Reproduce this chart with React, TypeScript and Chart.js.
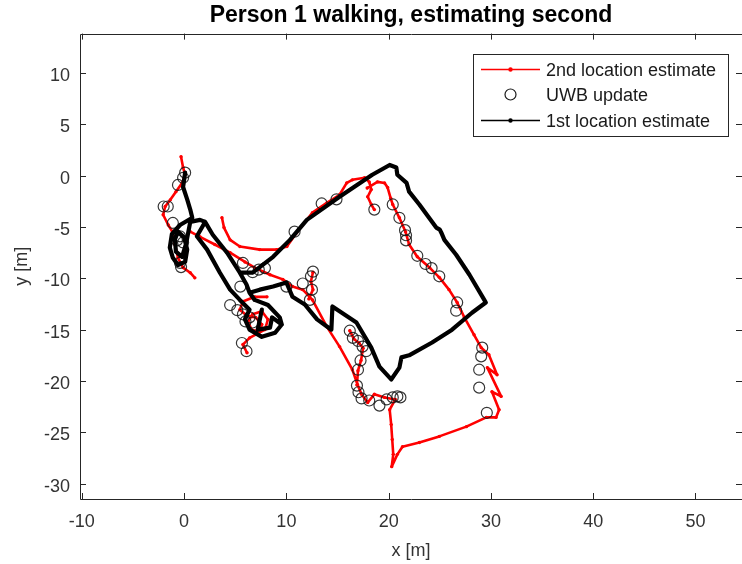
import React, { useEffect, useRef } from "react";
import { Chart, registerables } from "chart.js";

Chart.register(...registerables);

const FONT = '"Liberation Sans", Arial, Helvetica, sans-serif';

const chartTitle = "Person 1 walking, estimating second";
const xLabel = "x [m]";
const yLabel = "y [m]";
const xTicks = [-10, 0, 10, 20, 30, 40, 50];
const yTicks = [-30, -25, -20, -15, -10, -5, 0, 5, 10];
const seriesNames = ["2nd location estimate", "UWB update", "1st location estimate"];

// 2nd location estimate (red), null = break in the trace
const secondX = [
  -0.3, -0.1, 0.1, -0.2, -0.8, -1.35, -1.85, -2.05, -1.55, -1.15, -0.9, -0.6, -0.1, 0.6, 1.05, null,
  3.7, 3.9, 4.5, 5.45, 7.4, 9.05, 10.05, 11.0, 12.55, 13.95, 15.2, 15.9, 16.45, 17.65, 18.1, 18.3, 17.95, 18.3, 18.6, null,
  17.9, 18.9, 19.6, 19.9, 20.2, 20.4, 21.05, 21.65, 22.0, 22.8, 24.0, 24.95, 25.9, 26.7, 27.4, 28.35, 29.05, 29.8, 30.6, 29.65,
  31.0, 30.1, 30.8, 30.5, 29.55, 27.6, 24.95, 23.0, 21.35, 20.85, 20.3, 20.45, 20.35, 20.25, 20.1, 20.65, 19.6, 18.6, 17.95,
  17.35, 16.95, 16.45, 15.2, 13.95, 12.55, 11.6, 10.6, 9.65, 8.4, 6.9, 5.95, 4.5, 3.0, 1.55, 0.6, null,
  8.1, 6.9, 5.75, 5.45, 6.15, 7.0, 7.6, 7.4, 6.6, 6.25, 6.7, 7.6, 8.2, 7.9, 6.4, 5.75, 6.15, null,
  12.6, 12.4, 12.6, 12.2, null,
  16.2, 16.6, 17.1, 17.5, 17.3, 17.0, 16.9,
];
const secondY = [
  1.85, 0.8, 0.1, -0.7, -1.55, -2.35, -3.0, -3.8, -4.8, -5.45, -6.7, -8.0, -8.95, -9.45, -9.95, null,
  -4.1, -5.05, -6.25, -6.9, -7.2, -7.2, -6.9, -5.55, -3.6, -2.65, -1.85, -0.7, -0.4, -0.2, -0.6, -1.35, -2.05, -2.8, -3.3, null,
  -1.2, -0.6, -0.7, -1.15, -2.2, -2.8, -4.1, -5.45, -6.7, -7.9, -8.95, -9.9, -11.1, -12.35, -13.8, -15.5, -16.75, -17.45, -19.4, -18.7,
  -21.5, -21.05, -22.8, -23.55, -23.55, -24.45, -25.4, -26.0, -26.4, -27.15, -28.35, -27.15, -25.7, -24.25, -22.8, -21.8, -21.6, -21.3, -22.1,
  -21.3, -20.35, -18.9, -16.65, -14.7, -12.1, -11.1, -10.8, -10.1, -9.65, -8.95, -8.4, -7.5, -6.7, -5.95, -5.45, null,
  -11.8, -11.8, -12.25, -13.05, -13.65, -13.8, -14.5, -15.2, -15.0, -14.2, -13.5, -13.2, -14.0, -15.0, -15.8, -16.45, -17.25, null,
  -9.4, -10.3, -11.1, -12.0, null,
  -15.1, -15.9, -16.3, -16.8, -18.0, -19.0, -20.4,
];

// UWB updates (open circles)
const uwbX = [
  0.1, -0.1, -0.6, -2.0, -1.6, -1.1, -0.4, -0.7, -0.1, -0.4, -0.3,
  5.75, 5.5, 4.5, 5.2, 5.75, 6.4, 6.7, 6.0, 5.65, 6.1,
  10.8, 13.45, 14.9, 6.7, 7.3, 7.9, 10.0, 11.6, 12.4, 12.6, 12.5, 12.3,
  16.2, 16.5, 17.0, 17.45, 17.8, 17.25, 17.0, 16.9, 17.05, 17.35, 18.1, 19.1, 19.8, 20.4, 20.85, 21.15,
  18.6, 20.4, 21.05, 21.6, 21.7, 21.7, 22.8, 23.6, 24.2, 24.95, 26.7, 26.6,
  29.15, 29.05, 28.85, 28.85, 29.6,
];
const uwbY = [
  0.3, -0.2, -0.9, -3.0, -3.0, -4.6, -5.9, -6.3, -6.5, -8.5, -8.9,
  -8.5, -10.8, -12.6, -13.1, -13.5, -13.8, -14.3, -14.2, -16.3, -17.1,
  -5.45, -2.7, -2.3, -9.4, -9.15, -9.0, -10.8, -10.5, -9.8, -9.35, -11.1, -12.1,
  -15.1, -15.8, -16.1, -16.65, -17.1, -18.0, -18.9, -20.45, -21.1, -21.7, -21.9, -22.4, -21.8, -21.6, -21.5, -21.6,
  -3.3, -2.8, -4.1, -5.3, -5.8, -6.3, -7.8, -8.6, -9.0, -9.8, -12.35, -13.15,
  -16.75, -17.6, -18.9, -20.65, -23.1,
];

// 1st location estimate (black)
const firstX = [
  0.1, -0.1, 0.3, 0.6, 0.8, -0.4, -1.2, -1.4, -1.1, -0.6, 0.1, 0.3, 0.0, -0.6, -0.9, -0.8, -0.2, 0.2, 0.6, 1.55, 2.05,
  1.25, 2.25, 3.5, 4.5, 5.45, 6.4, 5.95, 6.4, 7.6, 8.9, 9.55, 9.35, 8.2, 6.9, 6.4, 6.1, 5.45, 4.2, 2.8, 2.05,
  2.8, 4.2, 5.45, 6.7, 8.7, 10.35, 12.0, 15.2, 18.4, 20.1, 20.75, 20.85, 21.75, 22.0, 23.0, 24.65, 25.0, 25.15, 25.45,
  26.6, 27.9, 29.35, 29.5, 28.15, 26.2, 24.25, 22.0, 21.25, 21.05, 20.25, 19.1, 18.3, 16.85, 14.5, 14.4, 13.0, 11.8,
  10.6, 10.0, 8.7, 7.4, 6.4, 6.9, 8.2, 9.35, 9.55, 8.6, 8.4, 7.2, 7.6,
];
const firstY = [
  0.3, -1.1, -2.3, -3.3, -4.1, -4.8, -5.7, -7.0, -8.0, -8.7, -8.4, -7.2, -6.0, -5.45, -6.2, -7.4, -7.9, -6.6, -4.5, -4.3, -4.5,
  -5.9, -7.2, -9.45, -11.1, -12.1, -13.05, -14.0, -15.0, -15.7, -15.3, -14.5, -13.8, -12.6, -12.1, -11.4, -10.6, -9.45, -7.5, -5.75, -4.5,
  -5.75, -7.5, -9.45, -9.45, -7.9, -6.25, -4.3, -2.05, 0.1, 1.05, 0.8, 0.1, -0.7, -1.55, -2.8, -5.05, -5.25, -5.55, -6.25,
  -7.7, -9.65, -12.1, -12.35, -13.35, -15.0, -16.25, -17.5, -17.7, -18.7, -19.85, -18.6, -16.75, -14.3, -12.75, -15.0, -14.0, -12.55,
  -11.8, -10.4, -10.8, -11.1, -11.4, -12.1, -12.6, -13.8, -14.5, -13.8, -14.8, -15.0, -13.05,
];

const toPoints = (xs: (number | null)[], ys: (number | null)[]) =>
  xs.map((x, i) => ({ x: x === null ? NaN : x, y: ys[i] === null ? NaN : (ys[i] as number) }));

const axesBoxPlugin = {
  id: "axesBox",
  afterDatasetsDraw(chart: any) {
    const { ctx, chartArea } = chart;
    const xs = chart.scales.x;
    const ys = chart.scales.y;
    const { left, right, top, bottom } = chartArea;
    ctx.save();
    ctx.strokeStyle = "#262626";
    ctx.lineWidth = 1;
    ctx.beginPath();
    ctx.rect(Math.round(left) + 0.5, Math.round(top) + 0.5, Math.round(right - left), Math.round(bottom - top));
    ctx.stroke();
    const tl = 6;
    ctx.beginPath();
    xTicks.forEach((v) => {
      const px = Math.round(xs.getPixelForValue(v)) + 0.5;
      ctx.moveTo(px, bottom);
      ctx.lineTo(px, bottom - tl);
      ctx.moveTo(px, top);
      ctx.lineTo(px, top + tl);
    });
    yTicks.forEach((v) => {
      const py = Math.round(ys.getPixelForValue(v)) + 0.5;
      ctx.moveTo(left, py);
      ctx.lineTo(left + tl, py);
      ctx.moveTo(right, py);
      ctx.lineTo(right - tl, py);
    });
    ctx.stroke();
    ctx.restore();
  },
};

const legendBoxPlugin = {
  id: "legendBox",
  afterDraw(chart: any) {
    const { ctx } = chart;
    const bx = 473.5, by = 54.5, bw = 255, bh = 82;
    ctx.save();
    ctx.fillStyle = "#ffffff";
    ctx.fillRect(bx, by, bw, bh);
    ctx.strokeStyle = "#262626";
    ctx.lineWidth = 1;
    ctx.strokeRect(bx, by, bw, bh);
    const rows = [69.5, 94.5, 120.5];
    const ds = chart.data.datasets;
    [0, 1, 2].forEach((di, r) => {
      const d = ds[di];
      const y = rows[r];
      if (d.showLine) {
        ctx.strokeStyle = d.borderColor;
        ctx.lineWidth = 1.5;
        ctx.beginPath();
        ctx.moveTo(481, y);
        ctx.lineTo(540, y);
        ctx.stroke();
        ctx.fillStyle = d.borderColor;
        ctx.beginPath();
        ctx.arc(510.5, y, 2.2, 0, Math.PI * 2);
        ctx.fill();
      } else {
        ctx.strokeStyle = "#1a1a1a";
        ctx.lineWidth = 1.2;
        ctx.beginPath();
        ctx.arc(510.5, y, 5.5, 0, Math.PI * 2);
        ctx.stroke();
      }
      ctx.fillStyle = "#1a1a1a";
      ctx.font = `18px ${FONT}`;
      ctx.textBaseline = "middle";
      ctx.textAlign = "left";
      ctx.fillText(d.label, 546, y + 1.5);
    });
    ctx.restore();
  },
};

export default function App() {
  const canvasRef = useRef<HTMLCanvasElement | null>(null);

  useEffect(() => {
    const canvas = canvasRef.current;
    if (!canvas) return;
    const chart = new Chart(canvas, {
      type: "scatter",
      data: {
        datasets: [
          {
            label: seriesNames[0],
            data: toPoints(secondX, secondY),
            showLine: true,
            spanGaps: false,
            borderColor: "#ff0000",
            backgroundColor: "#ff0000",
            borderWidth: 2.6,
            pointRadius: 1.7,
            pointBorderWidth: 0,
            borderJoinStyle: "round",
            borderCapStyle: "round",
            order: 2,
          } as any,
          {
            label: seriesNames[1],
            data: toPoints(uwbX, uwbY),
            showLine: false,
            borderColor: "rgba(20,20,20,0.85)",
            backgroundColor: "rgba(0,0,0,0)",
            pointRadius: 5.5,
            pointBorderWidth: 1.2,
            order: 1,
          } as any,
          {
            label: seriesNames[2],
            data: toPoints(firstX, firstY),
            showLine: true,
            spanGaps: false,
            borderColor: "#000000",
            backgroundColor: "#000000",
            borderWidth: 4.2,
            pointRadius: 1.5,
            pointBorderWidth: 0,
            borderJoinStyle: "round",
            borderCapStyle: "round",
            order: 0,
          } as any,
        ],
      },
      options: {
        responsive: false,
        animation: false,
        layout: { autoPadding: false, padding: { left: 0, right: -2, top: 0, bottom: 0 } },
        plugins: {
          legend: { display: false },
          tooltip: { enabled: false },
          title: {
            display: true,
            text: chartTitle,
            fullSize: false,
            color: "#000000",
            font: { family: FONT, size: 23, weight: "bold", lineHeight: 1.2 },
            padding: { top: 2, bottom: 4 },
          },
        },
        scales: {
          x: {
            type: "linear",
            min: -10.18,
            max: 54.55,
            afterBuildTicks: (s: any) => {
              s.ticks = xTicks.map((v) => ({ value: v }));
            },
            afterFit: (s: any) => {
              s.height = 65;
              s.paddingLeft = 0;
              s.paddingRight = 0;
            },
            grid: { display: false, drawTicks: false },
            border: { display: false },
            ticks: {
              font: { family: FONT, size: 18 },
              color: "#333333",
              padding: 12,
              maxRotation: 0,
              autoSkip: false,
            },
            title: {
              display: true,
              text: xLabel,
              color: "#333333",
              font: { family: FONT, size: 18 },
              padding: { top: 0, bottom: 2 },
            },
          },
          y: {
            type: "linear",
            min: -31.5,
            max: 13.85,
            afterBuildTicks: (s: any) => {
              s.ticks = yTicks.map((v) => ({ value: v }));
            },
            afterFit: (s: any) => {
              s.width = 80;
              s.paddingTop = 0;
              s.paddingBottom = 0;
            },
            grid: { display: false, drawTicks: false },
            border: { display: false },
            ticks: {
              font: { family: FONT, size: 18 },
              color: "#333333",
              padding: 10,
              labelOffset: 3,
              autoSkip: false,
            },
            title: {
              display: true,
              text: yLabel,
              color: "#333333",
              font: { family: FONT, size: 18 },
              padding: { top: 11, bottom: 0 },
            },
          },
        },
      },
      plugins: [axesBoxPlugin, legendBoxPlugin],
    });
    return () => chart.destroy();
  }, []);

  return (
    <div style={{ position: "absolute", left: 0, top: 0, width: 742, height: 564, overflow: "hidden", background: "#fff" }}>
      <canvas ref={canvasRef} width={742} height={564} style={{ display: "block" }} />
    </div>
  );
}
